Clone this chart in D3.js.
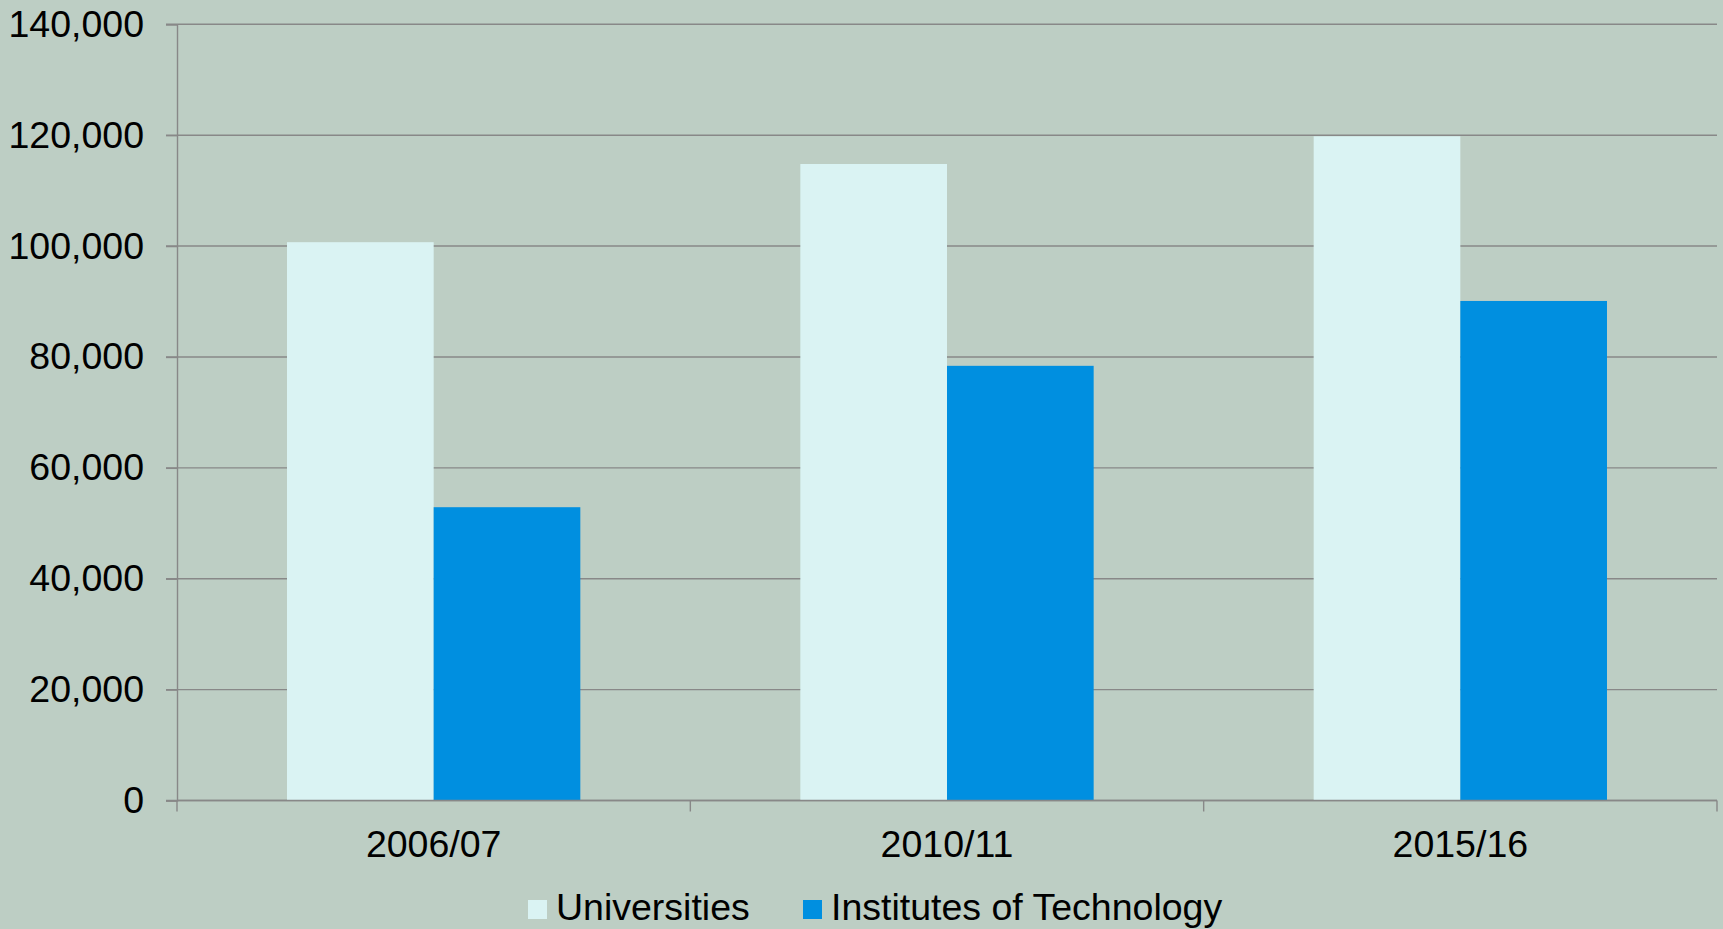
<!DOCTYPE html>
<html>
<head>
<meta charset="utf-8">
<script src="https://cdn.jsdelivr.net/npm/d3@7"></script>
<style>
  html, body { margin: 0; padding: 0; background: #BDCEC4; }
  svg { display: block; }
  text { font-family: "Liberation Sans", Arial, sans-serif; fill: #000; }
</style>
</head>
<body>
<svg id="chart" width="1723" height="929"></svg>
<script>
// Enrolments by academic year
const years = ["2006/07", "2010/11", "2015/16"];
const seriesNames = ["Universities", "Institutes of Technology"];
const universities = [100700, 114800, 119800];
const institutes = [52900, 78400, 90100];
const yTicks = [0, 20000, 40000, 60000, 80000, 100000, 120000, 140000];
const colors = ["#DAF3F3", "#008FE0"];

const svg = d3.select("#chart");
const W = 1723, H = 929;
const margin = { left: 177, right: 6, top: 24.3, bottom: 128.5 };
const plotBottom = H - margin.bottom;
const fontSize = 37.5;

svg.append("rect").attr("width", W).attr("height", H).attr("fill", "#BDCEC4");

const x = d3.scaleBand()
  .domain(years)
  .range([margin.left, W - margin.right])
  .paddingInner(0.4286)
  .paddingOuter(0.2143);

const x1 = d3.scaleBand()
  .domain(seriesNames)
  .range([0, x.bandwidth()]);

const y = d3.scaleLinear()
  .domain([0, 140000])
  .range([plotBottom, margin.top]);

const gridColor = "#888888";

// horizontal gridlines
svg.append("g")
  .selectAll("line")
  .data(yTicks)
  .join("line")
  .attr("x1", margin.left - 11)
  .attr("x2", W - margin.right)
  .attr("y1", d => y(d))
  .attr("y2", d => y(d))
  .attr("stroke", gridColor)
  .attr("stroke-width", 1.4);

// bars
const data = years.map((yr, i) => ({ year: yr, values: [universities[i], institutes[i]] }));
svg.append("g")
  .selectAll("g")
  .data(data)
  .join("g")
  .attr("transform", d => `translate(${x(d.year)},0)`)
  .selectAll("rect")
  .data(d => d.values.map((v, j) => ({ name: seriesNames[j], value: v, color: colors[j] })))
  .join("rect")
  .attr("x", d => x1(d.name))
  .attr("width", x1.bandwidth())
  .attr("y", d => y(d.value))
  .attr("height", d => plotBottom - y(d.value))
  .attr("fill", d => d.color);

// y axis
const yAxis = svg.append("g")
  .attr("transform", `translate(${margin.left},0)`)
  .call(d3.axisLeft(y).tickValues(yTicks).tickFormat(d3.format(",")).tickSize(11).tickPadding(22));
yAxis.select(".domain").attr("stroke", gridColor).attr("stroke-width", 1.4);
yAxis.selectAll(".tick line").attr("stroke", gridColor).attr("stroke-width", 1.4);
yAxis.selectAll("text").attr("font-size", fontSize).attr("font-family", "Liberation Sans, Arial, sans-serif").attr("fill", "#000");

// x axis baseline with ticks at category boundaries
const boundaries = [margin.left, ...years.slice(1).map(yr => x(yr) - x.step() * x.paddingInner() / 2), W - margin.right];
const xAxis = svg.append("g");
xAxis.append("line")
  .attr("x1", margin.left).attr("x2", W - margin.right)
  .attr("y1", plotBottom).attr("y2", plotBottom)
  .attr("stroke", gridColor).attr("stroke-width", 1.4);
xAxis.selectAll("line.tick")
  .data(boundaries)
  .join("line")
  .attr("class", "tick")
  .attr("x1", d => d).attr("x2", d => d)
  .attr("y1", plotBottom).attr("y2", plotBottom + 11)
  .attr("stroke", gridColor).attr("stroke-width", 1.4);
xAxis.selectAll("text")
  .data(years)
  .join("text")
  .attr("x", d => x(d) + x.bandwidth() / 2)
  .attr("y", 857)
  .attr("text-anchor", "middle")
  .attr("font-size", fontSize)
  .text(d => d);

// legend
const legendItems = [
  { name: seriesNames[0], color: colors[0], sx: 528, tx: 556 },
  { name: seriesNames[1], color: colors[1], sx: 803, tx: 831 }
];
const legend = svg.append("g");
legend.selectAll("rect")
  .data(legendItems)
  .join("rect")
  .attr("x", d => d.sx)
  .attr("y", 900)
  .attr("width", 19)
  .attr("height", 19)
  .attr("fill", d => d.color);
legend.selectAll("text")
  .data(legendItems)
  .join("text")
  .attr("x", d => d.tx)
  .attr("y", 920)
  .attr("font-size", fontSize)
  .text(d => d.name);
</script>
</body>
</html>
